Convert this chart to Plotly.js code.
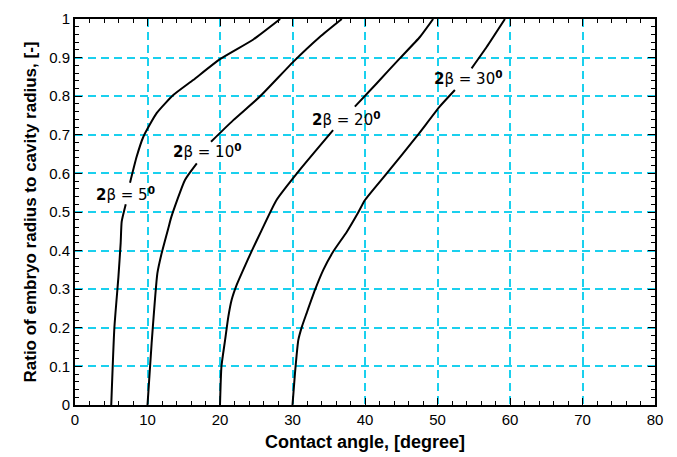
<!DOCTYPE html>
<html>
<head>
<meta charset="utf-8">
<script src="https://cdn.plot.ly/plotly-3.0.1.min.js"></script>
<style>
  html, body { margin: 0; padding: 0; background: #fff; }
  #chart { width: 677px; height: 457px; }
</style>
</head>
<body>
<div id="chart"></div>
<script>
// Contact angle [deg] vs. embryo/cavity radius ratio for four cone angles 2β.
// A null splits each curve where its label sits.
const angle5  = [5.0, 5.43, 5.98, 6.3, 6.44, 7.0, null, 7.59, 8.5, 9.43, 11.26, 13.56, 16.3, 20.0, 24.6, 28.3];
const ratio5  = [0.0, 0.2, 0.33, 0.42, 0.475, 0.52, null, 0.576, 0.643, 0.695, 0.756, 0.803, 0.842, 0.896, 0.947, 1.0];

const angle10 = [10.0, 10.57, 11.36, 11.95, 12.87, 13.3, 15.17, 16.8, null, 18.76, 21.84, 25.5, 30.1, 33.8, 36.8];
const ratio10 = [0.0, 0.16, 0.341, 0.393, 0.458, 0.488, 0.583, 0.626, null, 0.682, 0.738, 0.799, 0.889, 0.954, 1.0];

const angle20 = [20.0, 20.2, 20.7, 21.15, 21.6, 22.3, 23.2, 24.4, 25.75, 27.8, 31.0, 35.6, null, 38.6, 41.6, 44.8, 47.6, 49.4];
const ratio20 = [0.0, 0.1, 0.168, 0.229, 0.272, 0.311, 0.35, 0.40, 0.453, 0.531, 0.609, 0.712, null, 0.773, 0.833, 0.898, 0.954, 1.0];

const angle30 = [30.0, 30.34, 30.8, 31.3, 31.95, 33.1, 34.25, 35.6, 37.5, 39.1, 40.0, 43.0, 47.1, 50.3, 52.4, null, 54.7, 56.8, 59.3];
const ratio30 = [0.0, 0.082, 0.168, 0.203, 0.238, 0.298, 0.35, 0.397, 0.449, 0.5, 0.531, 0.6, 0.695, 0.773, 0.816, null, 0.872, 0.928, 1.0];

const curveLabels = ['5', '10', '20', '30'];
const labelAngle  = [7.0, 18.3, 37.4, 54.3];
const labelRatio  = [0.547, 0.658, 0.742, 0.846];

const curves = [[angle5, ratio5], [angle10, ratio10], [angle20, ratio20], [angle30, ratio30]];
const traces = curves.map(([x, y]) => ({
  x: x, y: y, type: 'scatter', mode: 'lines',
  line: { color: '#000', width: 2, shape: 'spline', smoothing: 0.5 },
  connectgaps: false, hoverinfo: 'skip', showlegend: false
}));

const annotations = curveLabels.map((deg, i) => ({
  x: labelAngle[i], y: labelRatio[i], xref: 'x', yref: 'y',
  text: '<b>2</b>β = ' + deg + '<sup><b>0</b></sup>',
  showarrow: false,
  font: { family: 'DejaVu Sans, Arial, sans-serif', size: 15, color: '#000' }
}));

const gridCol = '#1ad0ee';
const axisCommon = {
  showline: true, linecolor: '#000', linewidth: 2, mirror: 'allticks',
  tickmode: 'linear', tick0: 0,
  ticks: 'inside', ticklen: 7, tickwidth: 1, tickcolor: '#000',
  showgrid: true, gridcolor: gridCol, gridwidth: 2, griddash: '8px,5px',
  zeroline: false, fixedrange: true,
  tickfont: { family: 'Liberation Sans, Arial, sans-serif', size: 15, color: '#000' }
};

const layout = {
  width: 677, height: 457,
  margin: { l: 75, r: 22, t: 19, b: 52 },
  paper_bgcolor: '#fff', plot_bgcolor: '#fff',
  xaxis: Object.assign({}, axisCommon, {
    range: [0, 80], dtick: 10,
    minor: { dtick: 2, ticks: 'inside', ticklen: 4, tickcolor: '#000', showgrid: false },
    title: { text: '<b>Contact angle, [degree]</b>', standoff: 8,
             font: { family: 'Liberation Sans, Arial, sans-serif', size: 18, color: '#000' } }
  }),
  yaxis: Object.assign({}, axisCommon, {
    range: [0, 1], dtick: 0.1,
    minor: { dtick: 0.02, ticks: 'inside', ticklen: 4, tickcolor: '#000', showgrid: false },
    title: { text: '<b>Ratio of embryo radius to cavity radius, [-]</b>', standoff: 8,
             font: { family: 'Liberation Sans, Arial, sans-serif', size: 17, color: '#000' } }
  }),
  annotations: annotations
};

Plotly.newPlot('chart', traces, layout, { displayModeBar: false, staticPlot: true });
</script>
</body>
</html>
